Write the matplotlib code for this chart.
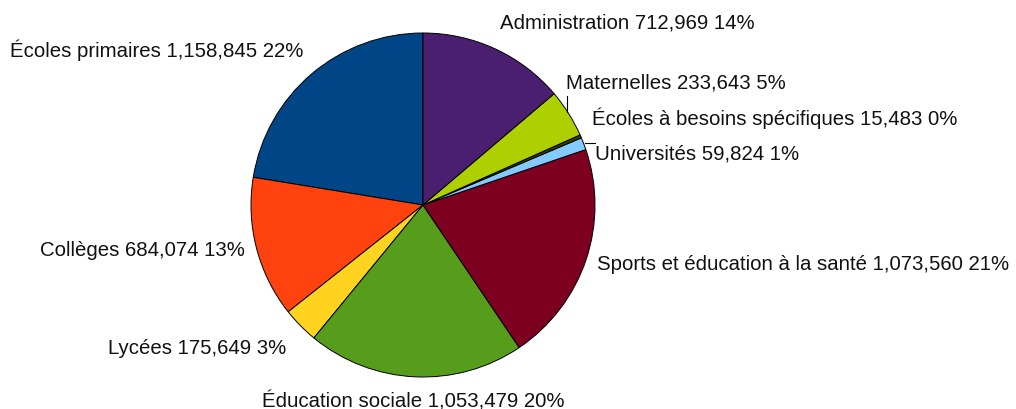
import matplotlib
matplotlib.use("Agg")
import matplotlib.pyplot as plt

categories = ["Écoles primaires", "Collèges", "Lycées", "Éducation sociale",
              "Sports et éducation à la santé", "Universités",
              "Écoles à besoins spécifiques", "Maternelles", "Administration"]
values = [1158845, 684074, 175649, 1053479, 1073560, 59824, 15483, 233643, 712969]
colors = ["#004586", "#ff420e", "#ffd320", "#579d1c", "#7e0021", "#83caff",
          "#314004", "#aecf00", "#4b1f6f"]

W, H = 1016, 409
fig = plt.figure(figsize=(W / 100, H / 100), dpi=100)
ax = fig.add_axes([0, 0, 1, 1])

cx, cy, r = 423, H - 205, 172
ax.pie(values, colors=colors, startangle=90, counterclock=True,
       center=(cx, cy), radius=r, frame=True,
       wedgeprops=dict(edgecolor="black", linewidth=0.7))
ax.set_xlim(0, W)
ax.set_ylim(0, H)
ax.set_aspect("equal")
ax.axis("off")

total = sum(values)
# label anchor positions (left x, center y) in pixels
label_pos = {
    "Écoles primaires": (10, 50),
    "Collèges": (40, 250),
    "Lycées": (108, 348),
    "Éducation sociale": (262, 401),
    "Sports et éducation à la santé": (597, 264),
    "Universités": (595, 154),
    "Écoles à besoins spécifiques": (592, 118),
    "Maternelles": (566, 83),
    "Administration": (500, 23),
}
for cat, v in zip(categories, values):
    pct = round(100 * v / total)
    txt = f"{cat} {v:,} {pct}%"
    x, y = label_pos[cat]
    ax.text(x, H - y, txt, ha="left", va="center", fontsize=14.7,
            family=["Liberation Sans", "DejaVu Sans"], color="#111111")

# leader lines
ax.plot([567, 567], [H - 96, H - 112], color="black", lw=0.8)
ax.plot([585, 595], [H - 143, H - 143], color="black", lw=0.8)

fig.savefig("out.png", dpi=100)
